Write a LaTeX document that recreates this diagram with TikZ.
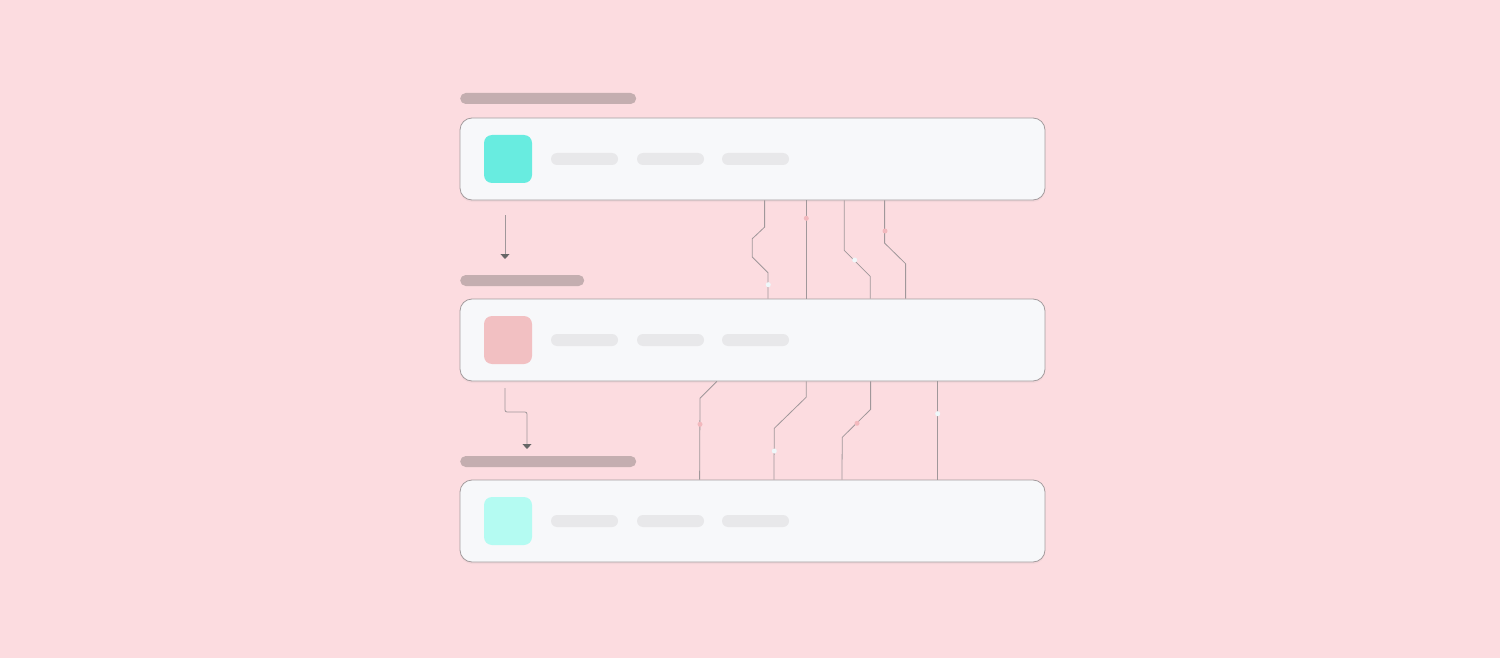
\documentclass[tikz,border=0pt]{standalone}
\usetikzlibrary{calc,shadows,arrows.meta}
\definecolor{bgpink}{HTML}{FCDCE0}
\definecolor{cardfill}{HTML}{F7F8FA}
\definecolor{cardline}{HTML}{A39B9D}
\definecolor{headbar}{HTML}{C4AEB0}
\definecolor{phbar}{HTML}{E8E8EA}
\definecolor{wirec}{HTML}{A0979A}
\definecolor{dotpink}{HTML}{F2B8BD}
\definecolor{dotwhite}{HTML}{EEF8FA}
\definecolor{iconA}{HTML}{68ECE0}
\definecolor{iconB}{HTML}{F2C0C2}
\definecolor{iconC}{HTML}{B4FBF2}
\definecolor{arrowc}{HTML}{666666}
\tikzset{
  card/.style={draw=cardline, line width=0.8pt, fill=cardfill, rounded corners=12pt,
    minimum width=585pt, minimum height=82pt, inner sep=0pt,
    drop shadow={opacity=0.07, shadow xshift=0pt, shadow yshift=-2pt}},
  headbar/.style={fill=headbar, rounded corners=5.5pt, minimum height=11pt, inner sep=0pt, anchor=west},
  icon/.style={rounded corners=8pt, minimum width=48pt, minimum height=48pt, inner sep=0pt},
  phbar/.style={fill=phbar, rounded corners=6pt, minimum width=67pt, minimum height=12pt, inner sep=0pt},
  wire/.style={draw=wirec, line width=0.8pt},
  dotp/.style={circle, fill=dotpink, minimum size=5pt, inner sep=0pt},
  dotw/.style={circle, fill=dotwhite, minimum size=5pt, inner sep=0pt},
  flowarrow/.style={draw=wirec, line width=0.8pt, -{Triangle[width=9pt,length=5pt,fill=arrowc,color=arrowc]}}
}
\begin{document}
\begin{tikzpicture}[x=1pt,y=-1pt]
\fill[bgpink] (0,0) rectangle (1500,658);
\useasboundingbox (0,0) rectangle (1500,658);

% header bars
\node[headbar, minimum width=176pt] (h1) at (460,98.5) {};
\node[headbar, minimum width=124pt] (h2) at (460,280.5) {};
\node[headbar, minimum width=176pt] (h3) at (460,461.5) {};

% cards
\node[card] (b1) at (752.5,159) {};
\node[card] (b2) at (752.5,340) {};
\node[card] (b3) at (752.5,521) {};

% icons and placeholder bars
\foreach \n/\y/\c in {1/159/iconA, 2/340/iconB, 3/521/iconC}{
  \node[icon, fill=\c] (i\n) at (508,\y) {};
  \node[phbar] (p\n a) at (584.5,\y) {};
  \node[phbar] (p\n b) at (670.5,\y) {};
  \node[phbar] (p\n c) at (755.5,\y) {};
}

% left flow arrows
\coordinate (a1s) at (505,215);
\coordinate (a1e) at (505,259);
\draw[flowarrow] (a1s) -- (a1e);
\coordinate (a2s) at (505,388);
\coordinate (a2e) at (527,449);
\draw[flowarrow, rounded corners=2pt] (a2s) -- (505,412) -- (527,412) -- (a2e);

% wires between card 1 and card 2
\draw[wire] ($(b1.south west)+(305,0)$) -- ++(0,26.7) -- ++(-12.3,11.6) -- ++(0,18.4) -- ++(15.6,15.6) -- ($(b2.north west)+(308.3,0)$);
\draw[wire] ($(b1.south west)+(346.3,0)$) -- ($(b2.north west)+(346.3,0)$);
\draw[wire] ($(b1.south west)+(384.7,0)$) -- ++(0,50) -- ++(26,26) -- ($(b2.north west)+(410.7,0)$);
\draw[wire] ($(b1.south west)+(425,0)$) -- ++(0,42.7) -- ++(21,20.6) -- ($(b2.north west)+(446,0)$);
\node[dotw] (d1) at (768.3,284.7) {};
\node[dotp] (d2) at (806.3,218.3) {};
\node[dotw] (d3) at (854.7,260) {};
\node[dotp] (d4) at (885,231) {};

% wires between card 2 and card 3
\draw[wire] ($(b2.south west)+(257.3,0)$) -- (700,398.3) -- ($(b3.north west)+(240,0)$);
\draw[wire] ($(b2.south west)+(346.7,0)$) -- ++(0,15.7) -- (774.3,428.3) -- ($(b3.north west)+(314.3,0)$);
\draw[wire] ($(b2.south west)+(411,0)$) -- ++(0,28) -- (842.3,437.3) -- ($(b3.north west)+(382.3,0)$);
\draw[wire] ($(b2.south west)+(477.7,0)$) -- ($(b3.north west)+(477.7,0)$);
\node[dotp] (d5) at (700,424.3) {};
\node[dotw] (d6) at (774.3,451) {};
\node[dotp] (d7) at (857,423.3) {};
\node[dotw] (d8) at (937.7,413.7) {};
\end{tikzpicture}
\end{document}
